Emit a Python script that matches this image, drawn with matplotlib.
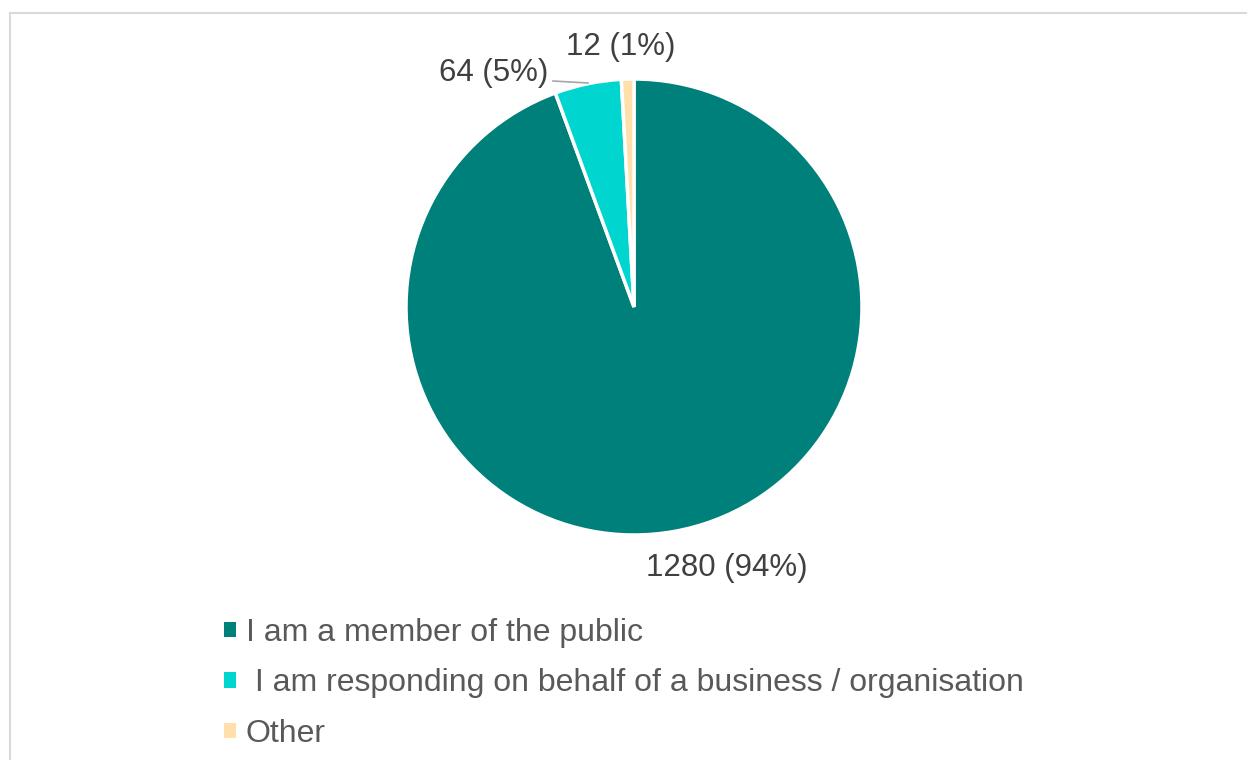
import matplotlib
matplotlib.use("Agg")
import matplotlib.pyplot as plt
from matplotlib.patches import Patch
from matplotlib.lines import Line2D

# Respondent types
categories = ["I am a member of the public",
              " I am responding on behalf of a business / organisation",
              "Other"]
counts = [1280, 64, 12]
percent_labels = ["94%", "5%", "1%"]
colors = ["#00807A", "#00D6CF", "#FFE0AA"]

W, H = 1247, 760
plt.rcParams["font.family"] = ["Liberation Sans", "DejaVu Sans"]

fig = plt.figure(figsize=(W / 100, H / 100), dpi=100)
ax = fig.add_axes([0, 0, 1, 1])

cx, cy, r = 634, H - 307, 228
wedges, _ = ax.pie(counts, colors=colors, startangle=90, counterclock=False,
                   center=(cx, cy), radius=r,
                   wedgeprops=dict(edgecolor="white", linewidth=2.5))
ax.set_xlim(0, W)
ax.set_ylim(0, H)
ax.set_aspect("equal")
ax.axis("off")

label_color = "#404040"
fs = 22.5
texts = [f"{c} ({p})" for c, p in zip(counts, percent_labels)]
# data labels
ax.text(727, H - 568, texts[0], ha="center", va="center", fontsize=fs, color=label_color)
ax.text(548, H - 73, texts[1], ha="right", va="center", fontsize=fs, color=label_color)
ax.text(621, H - 47, texts[2], ha="center", va="center", fontsize=fs, color=label_color)
# leader line for the small slice
ax.add_line(Line2D([553, 588], [H - 81, H - 83], color="#A6A6A6", lw=1.2))

# legend
handles = [Patch(facecolor=c, edgecolor="none") for c in colors]
leg = ax.legend(handles, categories, loc="upper left",
                bbox_to_anchor=(224 / W, 1 - 618 / H), bbox_transform=fig.transFigure,
                frameon=False, fontsize=23, handlelength=0.38, handleheight=0.38,
                handletextpad=0.3, labelspacing=0.64, borderpad=0, borderaxespad=0)
for t in leg.get_texts():
    t.set_color("#595959")

# outer frame
fig.add_artist(Line2D([9.5 / W, 9.5 / W], [0, 1 - 12.5 / H], color="#D9D9D9", lw=1.5,
                      transform=fig.transFigure))
fig.add_artist(Line2D([9.5 / W, 1], [1 - 12.5 / H, 1 - 12.5 / H], color="#D9D9D9", lw=1.5,
                      transform=fig.transFigure))

fig.savefig("out.png", dpi=100, facecolor="white")
